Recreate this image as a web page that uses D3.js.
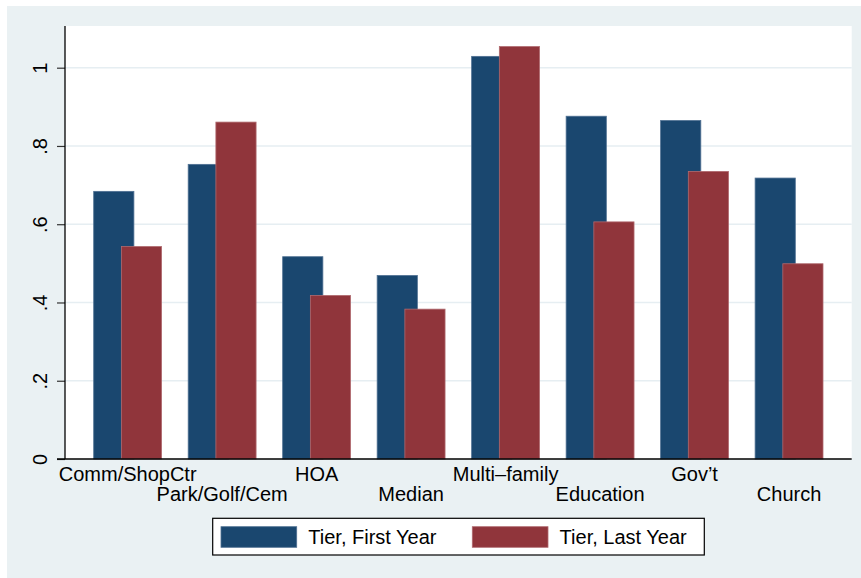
<!DOCTYPE html>
<html>
<head>
<meta charset="utf-8">
<script src="https://cdn.jsdelivr.net/npm/d3@7"></script>
<style>
  html, body { margin: 0; padding: 0; background: #ffffff; }
  svg { display: block; }
  text { font-family: "Liberation Sans", Arial, Helvetica, sans-serif; fill: #000; }
</style>
</head>
<body>
<svg id="chart" width="861" height="578"></svg>
<script>
// ---- Data ----
const categories = ["Comm/ShopCtr", "Park/Golf/Cem", "HOA", "Median", "Multi\u2013family", "Education", "Gov\u2019t", "Church"];
const firstYear = [0.685, 0.754, 0.518, 0.470, 1.030, 0.877, 0.866, 0.719];
const lastYear  = [0.544, 0.862, 0.419, 0.384, 1.055, 0.607, 0.736, 0.500];
const yTicks = [0, 0.2, 0.4, 0.6, 0.8, 1];
const yTickLabels = ["0", ".2", ".4", ".6", ".8", "1"];
const seriesNames = ["Tier, First Year", "Tier, Last Year"];

// ---- Layout ----
const W = 861, H = 578;
const plot = { left: 65, right: 851.7, top: 26, bottom: 459 };
const colors = ["#1a476f", "#90353b"];
const strokes = ["#4f7092", "#b06a6f"];
const bgColor = "#eaf1f3";
const gridColor = "#e6eef2";

const svg = d3.select("#chart");

svg.append("rect").attr("x", 7).attr("y", 6).attr("width", W - 7).attr("height", H - 6).attr("fill", bgColor);
svg.append("rect").attr("x", plot.left).attr("y", plot.top)
  .attr("width", plot.right - plot.left).attr("height", plot.bottom - plot.top).attr("fill", "#fff");

const y = d3.scaleLinear().domain([0, 1]).range([plot.bottom, 67.7]);
const x = d3.scaleBand().domain(categories).range([plot.left, plot.right])
  .paddingInner(0.273).paddingOuter(0.2995);

const bw = x.bandwidth() * 41 / 68.7;
const sub = d3.scaleOrdinal().domain([0, 1]).range([0, x.bandwidth() - bw]);

// gridlines
svg.append("g").selectAll("line").data(yTicks.filter(d => d > 0)).join("line")
  .attr("x1", plot.left).attr("x2", plot.right)
  .attr("y1", d => y(d)).attr("y2", d => y(d))
  .attr("stroke", gridColor).attr("stroke-width", 1.5);

// bars
const series = [firstYear, lastYear];
series.forEach((vals, si) => {
  svg.append("g").selectAll("rect").data(vals).join("rect")
    .attr("x", (d, i) => x(categories[i]) + sub(si) + 0.4)
    .attr("y", d => y(d) + 0.4)
    .attr("width", bw - 0.8)
    .attr("height", d => y(0) - y(d) - 0.4)
    .attr("fill", colors[si])
    .attr("stroke", strokes[si])
    .attr("stroke-width", 0.8);
});

// y axis
const yAxis = d3.axisLeft(y).tickValues(yTicks).tickFormat((d, i) => yTickLabels[i]).tickSize(8).tickPadding(10);
const gy = svg.append("g").attr("transform", `translate(${plot.left},0)`).call(yAxis);
gy.select(".domain").remove();
gy.selectAll(".tick line").attr("stroke", "#333").attr("stroke-width", 1.2);
gy.selectAll(".tick text")
  .attr("x", null).attr("dy", null)
  .attr("transform", "translate(-18,0) rotate(-90)")
  .attr("text-anchor", "middle")
  .attr("font-size", 20)
  .style("font-family", "'Liberation Sans', Arial, sans-serif");
svg.append("line").attr("x1", plot.left).attr("x2", plot.left)
  .attr("y1", plot.top).attr("y2", plot.bottom).attr("stroke", "#000").attr("stroke-width", 1.3);

// x axis
const xAxis = d3.axisBottom(x).tickSize(0).tickPadding(0);
const gx = svg.append("g").attr("transform", `translate(0,${plot.bottom})`).call(xAxis);
gx.select(".domain").remove();
gx.selectAll(".tick text")
  .attr("y", (d, i) => i % 2 === 0 ? 22 : 42)
  .attr("dy", null)
  .attr("font-size", 20)
  .style("font-family", "'Liberation Sans', Arial, sans-serif");
svg.append("line").attr("x1", plot.left - 8).attr("x2", plot.right)
  .attr("y1", plot.bottom).attr("y2", plot.bottom).attr("stroke", "#000").attr("stroke-width", 1.3);

// legend
const leg = svg.append("g");
leg.append("rect").attr("x", 212.7).attr("y", 518.3).attr("width", 491.6).attr("height", 36.7)
  .attr("fill", "#fff").attr("stroke", "#000").attr("stroke-width", 1.2);
const legX = [221, 472.3];
seriesNames.forEach((name, i) => {
  leg.append("rect").attr("x", legX[i]).attr("y", 526.7).attr("width", 75.7).attr("height", 20.6)
    .attr("fill", colors[i]).attr("stroke", strokes[i]).attr("stroke-width", 0.8);
  leg.append("text").attr("x", legX[i] + 87.3).attr("y", 544.3).attr("font-size", 20).text(name);
});
</script>
</body>
</html>
